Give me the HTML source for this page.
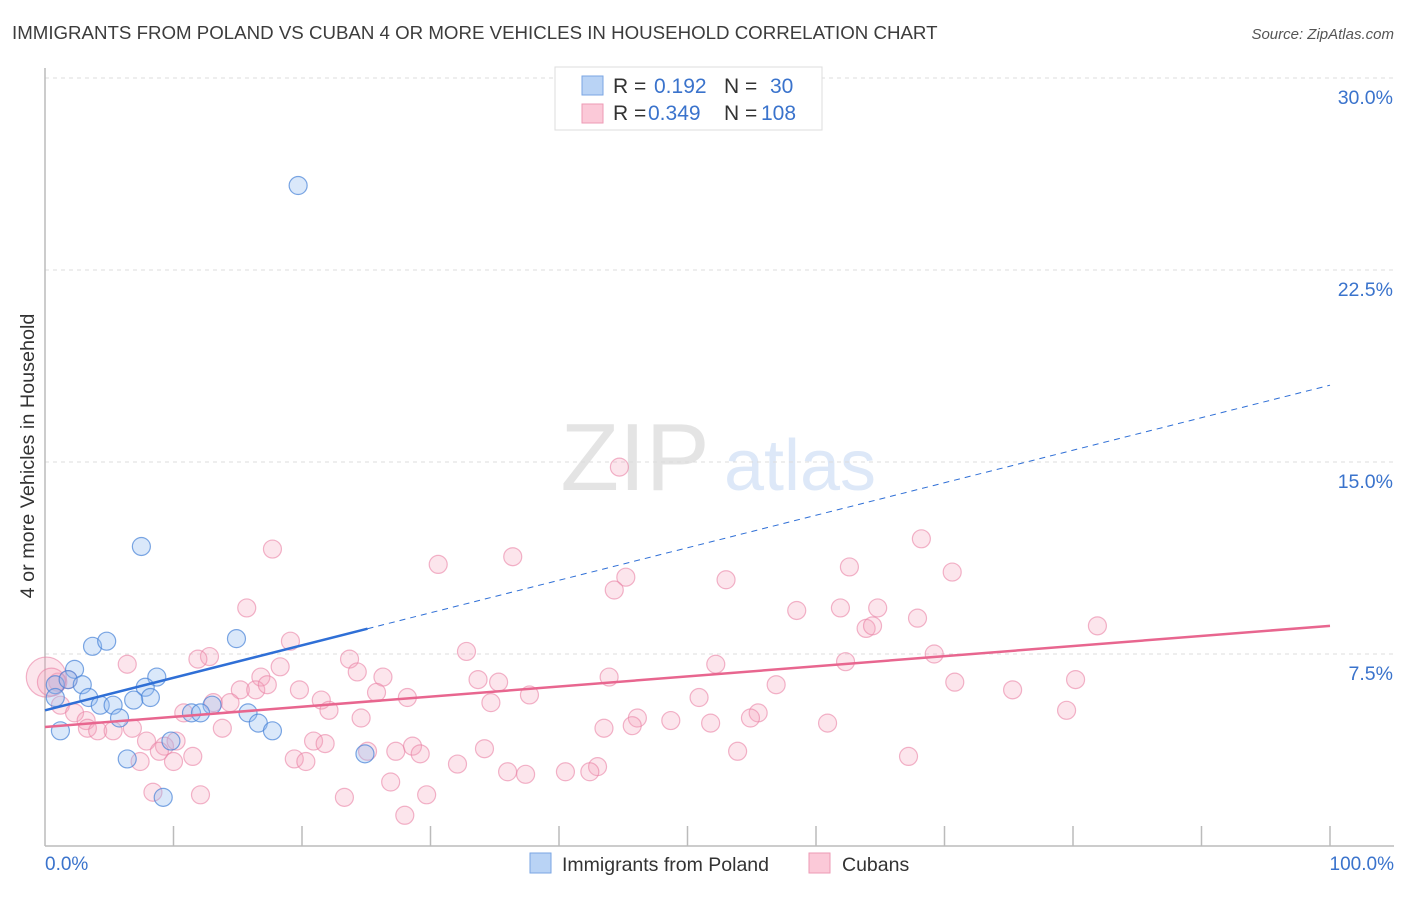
<!DOCTYPE html>
<html><head><meta charset="utf-8"><style>
body{margin:0;background:#fff;font-family:"Liberation Sans",sans-serif;}
svg text{font-family:"Liberation Sans",sans-serif;}
</style></head><body>
<svg id="chart" width="1406" height="892" viewBox="0 0 1406 892" xmlns="http://www.w3.org/2000/svg">
<text x="12" y="39" font-size="18.7" fill="#3c3c3c">IMMIGRANTS FROM POLAND VS CUBAN 4 OR MORE VEHICLES IN HOUSEHOLD CORRELATION CHART</text>
<text x="1394" y="39" font-size="15" fill="#555" text-anchor="end" font-style="italic">Source: ZipAtlas.com</text>
<text transform="translate(34,456) rotate(-90)" font-size="19.8" fill="#333" text-anchor="middle">4 or more Vehicles in Household</text>
<g opacity="0.22">
<text x="635" y="490" font-size="96" fill="#888" text-anchor="middle" font-family="Liberation Serif">ZIP</text>
<text x="800" y="490" font-size="72" fill="#6a9ae0" text-anchor="middle">atlas</text>
</g>
<g id="grid"></g><g id="axes"></g><g id="pts"></g><g id="lines"></g>
<g>
<rect x="555" y="67" width="267" height="63" fill="#fff" stroke="#ddd"/>
<rect x="582" y="76" width="21" height="19" fill="#b9d3f5" stroke="#7aa6e3"/>
<rect x="582" y="104" width="21" height="19" fill="#fbc9d8" stroke="#ee9ab5"/>
<text x="613" y="93" font-size="21" fill="#333">R = </text><text x="654" y="93" font-size="21" fill="#3a73cc">0.192</text>
<text x="724" y="93" font-size="21" fill="#333">N = </text><text x="770" y="93" font-size="21" fill="#3a73cc">30</text>
<text x="613" y="120" font-size="21" fill="#333">R = </text><text x="648" y="120" font-size="21" fill="#3a73cc">0.349</text>
<text x="724" y="120" font-size="21" fill="#333">N = </text><text x="761" y="120" font-size="21" fill="#3a73cc">108</text>
</g>
<g>
<rect x="530" y="853" width="21" height="20" fill="#b9d3f5" stroke="#7aa6e3"/>
<text x="562" y="871" font-size="19.5" fill="#333">Immigrants from Poland</text>
<rect x="809" y="853" width="21" height="20" fill="#fbc9d8" stroke="#ee9ab5"/>
<text x="842" y="871" font-size="19.5" fill="#333">Cubans</text>
</g>
</svg>
<script>
const yTicks=[7.5,15,22.5,30];
const yTickLabels=["7.5%","15.0%","22.5%","30.0%"];
const xTickLabels=["0.0%","100.0%"];
const polandX=[19.7,7.5,3.7,4.8,14.9,2.3,8.7,0.8,1.8,2.9,7.8,3.4,8.2,0.8,6.9,4.3,5.3,13.0,11.4,12.1,15.8,5.8,16.6,1.2,17.7,9.8,6.4,24.9,9.2];
const polandY=[25.8,11.7,7.8,8.0,8.1,6.9,6.6,6.3,6.5,6.3,6.2,5.8,5.8,5.8,5.7,5.5,5.5,5.5,5.2,5.2,5.2,5.0,4.8,4.5,4.5,4.1,3.4,3.6,1.9];
const cubanX=[44.7,36.4,30.6,17.7,68.2,62.6,70.6,45.2,44.3,53.0,15.7,58.5,61.9,64.8,67.9,63.9,64.4,81.9,19.1,32.8,12.8,11.9,6.4,23.7,69.2,52.2,62.3,18.3,16.8,24.3,26.3,33.7,35.3,43.9,70.8,80.2,1.8,1.0,56.9,75.3,19.8,15.2,16.4,17.3,25.8,28.2,37.7,50.9,13.1,14.4,21.5,34.7,1.2,22.1,2.3,10.8,24.6,3.2,46.1,79.5,55.5,54.9,48.7,51.8,43.5,45.7,60.9,3.3,4.1,5.3,6.8,13.8,20.9,21.8,7.9,9.3,10.2,8.9,11.5,27.3,28.6,25.1,29.2,34.2,53.9,67.2,7.4,10.0,19.4,20.3,32.1,43.0,36.0,37.4,40.5,42.4,26.9,8.4,12.1,23.3,29.7,28.0,0.1,0.5];
const cubanY=[14.8,11.3,11.0,11.6,12.0,10.9,10.7,10.5,10.0,10.4,9.3,9.2,9.3,9.3,8.9,8.5,8.6,8.6,8.0,7.6,7.4,7.3,7.1,7.3,7.5,7.1,7.2,7.0,6.6,6.8,6.6,6.5,6.4,6.6,6.4,6.5,6.5,6.4,6.3,6.1,6.1,6.1,6.1,6.3,6.0,5.8,5.9,5.8,5.6,5.6,5.7,5.6,5.5,5.3,5.2,5.2,5.0,4.9,5.0,5.3,5.2,5.0,4.9,4.8,4.6,4.7,4.8,4.6,4.5,4.5,4.6,4.6,4.1,4.0,4.1,3.9,4.1,3.7,3.5,3.7,3.9,3.7,3.6,3.8,3.7,3.5,3.3,3.3,3.4,3.3,3.2,3.1,2.9,2.8,2.9,2.9,2.5,2.1,2.0,1.9,2.0,1.2,6.6,6.4];
const cubanR=[];for(let i=0;i<cubanX.length;i++)cubanR.push(9);cubanR[cubanR.length-2]=20;cubanR[cubanR.length-1]=14;
const polandTrend=[5.3,18.0];
const polandSolidEnd=25.1;
const cubanTrend=[4.65,8.6];
const NS="http://www.w3.org/2000/svg";
const X0=45,X1=1330,Y0=846,YTOP=78;
const sx=v=>X0+(X1-X0)*v/100;
const sy=v=>Y0-(Y0-YTOP)*v/30;
function mk(tag,attrs,parent){const e=document.createElementNS(NS,tag);for(const k in attrs)e.setAttribute(k,attrs[k]);parent.appendChild(e);return e;}
const grid=document.getElementById('grid'),axes=document.getElementById('axes'),pts=document.getElementById('pts'),lines=document.getElementById('lines');
yTicks.forEach((t,i)=>{
 const l=mk('line',{x1:X0,x2:1394,y1:sy(t),y2:sy(t),stroke:'#ddd','stroke-dasharray':'4,4'},grid);
 
 
 const tx=mk('text',{x:1393,y:sy(t)+26,'font-size':19.5,fill:'#3a73cc','text-anchor':'end'},grid);
 tx.textContent=yTickLabels[i];
 
 
});
const ax=mk('line',{x1:X0,x2:X0,y1:68,y2:Y0,stroke:'#bbb','stroke-width':1.5},axes);


const xa=mk('line',{x1:X0,x2:1394,y1:Y0,y2:Y0,stroke:'#bbb','stroke-width':1.5},axes);


for(let i=1;i<=10;i++){const t=mk('line',{x1:sx(i*10),x2:sx(i*10),y1:Y0-20,y2:Y0,stroke:'#bbb','stroke-width':1.5},axes);
 
 }
[[0,'start',45],[100,'end',1394]].forEach((d,i)=>{const t=mk('text',{x:d[2],y:870,'font-size':19,fill:'#3a73cc','text-anchor':d[1]},axes);t.textContent=xTickLabels[i];
 
 });
cubanX.forEach((v,i)=>{const c=mk('circle',{cx:sx(v),cy:sy(cubanY[i]),r:cubanR[i],fill:'rgba(246,160,188,0.28)',stroke:'rgba(234,130,165,0.6)','stroke-width':1.2},pts);
 
 });
polandX.forEach((v,i)=>{const c=mk('circle',{cx:sx(v),cy:sy(polandY[i]),r:9,fill:'rgba(150,190,240,0.35)',stroke:'rgba(70,130,215,0.7)','stroke-width':1.2},pts);
 
 });
const pAt=x=>polandTrend[0]+(polandTrend[1]-polandTrend[0])*x/100;
const l1=mk('line',{x1:sx(0),y1:sy(pAt(0)),x2:sx(polandSolidEnd),y2:sy(pAt(polandSolidEnd)),stroke:'#2f6fd6','stroke-width':2.5},lines);


const l2=mk('line',{x1:sx(polandSolidEnd),y1:sy(pAt(polandSolidEnd)),x2:sx(100),y2:sy(pAt(100)),stroke:'#2f6fd6','stroke-width':1,'stroke-dasharray':'6,5'},lines);


const l3=mk('line',{x1:sx(0),y1:sy(cubanTrend[0]),x2:sx(100),y2:sy(cubanTrend[1]),stroke:'#e8668f','stroke-width':2.5},lines);


</script>
</body></html>
